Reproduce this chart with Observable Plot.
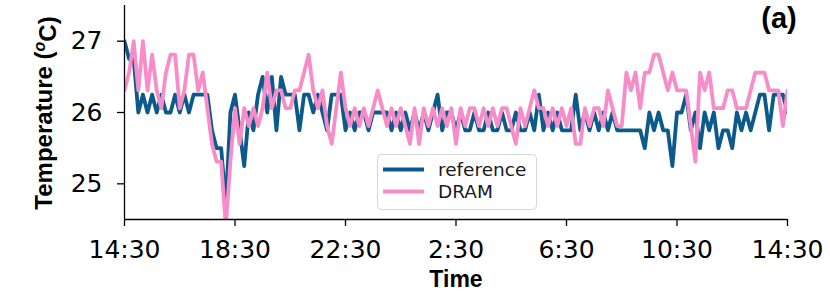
<!DOCTYPE html>
<html><head><meta charset="utf-8">
<script src="https://cdn.jsdelivr.net/npm/d3@7"></script>
<script src="https://cdn.jsdelivr.net/npm/@observablehq/plot@0.6"></script>
<style>body{margin:0;background:#fff} svg{display:block}</style>
</head><body><div id="chart"></div><script>
// 10-minute samples from 14:30 to 14:30 the next day
const stepMinutes = 10;
const reference = [
 27.0, 26.75, 26.75, 26.0, 26.25, 26.0, 26.25, 26.0, 26.25, 26.0, 26.0, 26.25, 26.0, 26.25, 26.0, 26.25, 26.25, 26.25, 26.25, 25.75, 25.5, 25.5, 24.7, 26.0, 26.25,
 25.75, 25.25, 26.0, 25.75, 26.25, 26.5, 26.0, 26.5, 25.75, 26.5, 26.25, 26.25, 26.25, 25.75, 26.25, 26.25, 26.0, 26.25, 26.0, 25.75, 26.25, 26.25, 26.25, 25.75,
 26.0, 25.75, 26.0, 26.0, 25.75, 26.0, 26.0, 26.0, 26.0, 25.75, 26.0, 25.75, 26.0, 25.75, 26.0, 25.75, 26.0, 25.75, 26.0, 26.25, 25.75, 26.0, 26.0, 25.75,
 26.0, 25.75, 25.75, 26.0, 25.75, 25.75, 26.0, 25.75, 25.75, 26.0, 25.75, 25.75, 26.0, 25.75, 25.75, 26.0, 25.75, 26.25, 25.75, 26.0, 25.75, 26.0, 25.75, 25.75,
 25.75, 26.25, 25.75, 26.0, 25.75, 26.0, 25.75, 26.0, 25.75, 26.0, 25.75, 25.75, 25.75, 25.75, 25.75, 25.75, 25.5, 26.0, 25.75, 26.0, 25.75, 25.75, 25.25, 26.0,
 26.0, 26.25, 25.75, 26.0, 25.5, 26.0, 25.75, 26.0, 25.5, 25.75, 25.75, 25.5, 26.0, 25.75, 26.0, 25.75, 26.0, 26.25, 26.25, 25.75, 26.25, 26.25, 26.25, 26.0
];
const dram = [
 26.31, 26.56, 27.0, 26.31, 27.0, 26.31, 26.81, 26.31, 26.06, 26.56, 26.81, 26.81, 26.06, 26.31, 26.81, 26.81, 26.31, 26.56, 26.06, 25.56, 25.31, 25.31, 24.4, 25.31, 26.06,
 25.56, 26.06, 25.81, 26.06, 25.81, 26.06, 26.56, 26.06, 26.31, 26.31, 26.06, 26.06, 26.31, 26.31, 26.56, 26.81, 26.31, 26.06, 26.31, 25.81, 25.56, 26.06, 26.56, 26.06,
 25.81, 26.06, 25.81, 26.06, 25.81, 26.06, 26.31, 26.06, 25.81, 26.06, 25.81, 26.06, 25.81, 25.56, 26.06, 25.56, 26.06, 25.81, 26.06, 25.81, 26.06, 25.81, 26.06, 25.56,
 26.06, 25.81, 26.06, 26.06, 25.81, 26.06, 25.81, 26.06, 25.81, 26.06, 26.06, 25.81, 25.56, 26.06, 25.81, 26.06, 26.31, 26.06, 26.06, 25.81, 26.06, 25.81, 26.06, 25.81,
 26.06, 25.56, 25.56, 26.06, 25.81, 26.06, 26.06, 25.81, 26.31, 26.06, 25.81, 25.81, 26.56, 26.31, 26.56, 26.06, 26.56, 26.56, 26.81, 26.81, 26.56, 26.31, 26.56, 26.31,
 26.31, 26.31, 25.81, 25.31, 26.56, 26.31, 26.56, 26.06, 26.06, 26.06, 26.31, 26.31, 26.06, 26.06, 26.06, 26.31, 26.56, 26.56, 26.56, 26.31, 26.31, 26.31, 25.81, 26.31
];
const seriesNames = ["reference", "DRAM"];
const seriesColors = ["#0c5a8c", "#f68dc9"];
const xTickLabels = ["14:30", "18:30", "22:30", "2:30", "6:30", "10:30", "14:30"];
const yTicks = [25, 26, 27];
const yDomain = [24.5, 27.5];

const t0 = new Date(2020, 0, 1, 14, 30);
const tEnd = d3.timeHour.offset(t0, 24);
const tickDates = xTickLabels.map((_, i) => d3.timeHour.offset(t0, 4 * i));
const toRows = (vals, name) => vals.map((v, i) => ({time: d3.timeMinute.offset(t0, stepMinutes * i), value: v, series: name}));
const refRows = toRows(reference, seriesNames[0]);
const dramRows = toRows(dram, seriesNames[1]);

const chart = Plot.plot({
  width: 830, height: 292,
  marginLeft: 124, marginRight: 43, marginTop: 5, marginBottom: 73,
  style: {fontFamily: "DejaVu Sans", background: "#fff", color: "#000"},
  x: {type: "time", domain: [t0, tEnd]},
  y: {domain: yDomain},
  marks: [
    Plot.lineY(refRows, {x: "time", y: "value", stroke: seriesColors[0], strokeWidth: 3.8, strokeLinejoin: "round", clip: true}),
    Plot.lineY(dramRows, {x: "time", y: "value", stroke: seriesColors[1], strokeWidth: 3.8, strokeLinejoin: "round", clip: true}),
    Plot.axisX({ticks: tickDates, tickFormat: d => xTickLabels[tickDates.findIndex(t => +t === +d)], tickSize: 7, tickPadding: 14, label: null, fontSize: 25, strokeWidth: 1.3}),
    Plot.axisY({ticks: yTicks, tickFormat: d => String(d), tickSize: 7, tickPadding: 15, label: null, fontSize: 25, strokeWidth: 1.3}),
    Plot.ruleX([t0], {stroke: "#000", strokeWidth: 1.3}),
    Plot.ruleY([yDomain[0]], {stroke: "#000", strokeWidth: 1.3})
  ]
});
document.getElementById("chart").appendChild(chart);

// annotations: axis titles, panel label, legend
const svg = d3.select(chart);
const yt = svg.append("text")
  .attr("transform", "translate(52,113) rotate(-90)")
  .attr("text-anchor", "middle")
  .style("font-family", "Liberation Sans, Arial, sans-serif")
  .style("font-weight", "bold").style("font-size", "24px").attr("fill", "#000");
yt.append("tspan").text("Temperature (");
yt.append("tspan").text("o").attr("dy", "-0.45em").style("font-size", "16px").style("font-style", "italic");
yt.append("tspan").text("C)").attr("dy", "0.45em");

svg.append("text").attr("x", 456).attr("y", 287).attr("text-anchor", "middle")
  .style("font-family", "Liberation Sans, Arial, sans-serif").style("font-weight", "bold").style("font-size", "23px")
  .text("Time");

svg.append("text").attr("x", 779).attr("y", 28).attr("text-anchor", "middle")
  .style("font-family", "Liberation Sans, Arial, sans-serif").style("font-weight", "bold").style("font-size", "29px")
  .text("(a)");

const lg = svg.append("g");
lg.append("rect").attr("x", 377.5).attr("y", 154.5).attr("width", 159).attr("height", 55).attr("rx", 4)
  .attr("fill", "#fff").attr("fill-opacity", 0.85).attr("stroke", "#d6d6d6");
seriesNames.forEach((name, i) => {
  const cy = 169.5 + i * 22;
  lg.append("line").attr("x1", 383).attr("x2", 424).attr("y1", cy).attr("y2", cy)
    .attr("stroke", seriesColors[i]).attr("stroke-width", 3.8);
  lg.append("text").attr("x", 438).attr("y", cy + 6.5).attr("text-anchor", "start")
    .style("font-family", "DejaVu Sans").style("font-size", "18.5px").attr("fill", "#1a1a1a").text(name);
});
</script></body></html>
